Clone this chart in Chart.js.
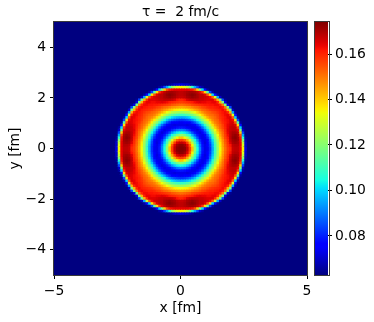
<!DOCTYPE html>
<html><head><meta charset="utf-8">
<style>html,body{margin:0;padding:0;background:#fff}
#w{position:relative;width:374px;height:322px;overflow:hidden}
canvas{position:absolute;top:0}
</style>
<script src="https://cdn.jsdelivr.net/npm/chart.js@4/dist/chart.umd.min.js"></script>
</head><body><div id="w"><canvas id="main" width="374" height="322" style="left:0"></canvas><canvas id="bar" width="74" height="322" style="left:300px"></canvas></div>
<script>
const titleText = 'τ =  2 fm/c';
const xLabel = 'x [fm]';
const yLabel = 'y [fm]';
const xTicks = [-5, 0, 5];
const yTicks = [-4, -2, 0, 2, 4];
const barTicks = [0.08, 0.10, 0.12, 0.14, 0.16];
const valueMin = 0.0628;
const valueMax = 0.1741;
const cellSize = 0.1;
const cellsPerSide = 100;
// Values, in thousandths. Cell rows outward from the centre;
// the picture repeats this wedge by reflection. Cells not listed are at the floor.
const wedge = [
[174],
[173,171],
[168,165,157],
[157,153,144,131],
[141,135,127,117,107],
[121,117,111,105,96,87],
[105,103,99,93,85,79,74],
[91,89,85,81,77,74,72,75],
[79,78,76,74,73,73,75,80,88],
[73,73,72,73,74,77,82,89,98,108],
[74,75,76,77,81,86,94,101,110,120,126],
[82,83,85,88,92,98,105,113,121,128,136,142],
[95,96,98,101,106,110,117,123,130,138,144,148,150],
[109,110,112,115,118,123,128,134,140,145,149,151,152,154],
[122,123,124,126,130,134,139,143,147,150,152,153,155,156,158],
[134,135,136,139,141,144,146,149,152,153,155,157,158,159,160,161],
[144,145,146,147,149,151,152,154,156,157,159,160,160,161,162,163,161],
[151,152,153,154,156,157,158,159,160,161,161,162,162,163,163,160,150,118],
[157,158,159,160,161,163,164,165,164,164,163,163,164,164,160,143,118,72],
[160,162,165,167,168,168,168,167,167,166,165,165,165,159,143,118,84,65],
[167,168,170,171,172,171,170,168,168,167,166,163,153,131,95,70],
[168,169,171,172,173,172,170,168,168,165,155,137,100,78,66],
[168,169,170,171,171,170,168,164,158,138,112,84,67],
[164,164,164,163,162,155,140,118,100,78,66],
[135,132,128,120,108,95,84,70,66],
[72,70,70,67,65]
];

function jet(t){
  const c=(a)=>Math.max(0,Math.min(1,a));
  const r = t<.35?0:t<.66?(t-.35)/.31:t<.89?1:1-(t-.89)/.11*.5;
  const g = t<.125?0:t<.375?(t-.125)/.25:t<.64?1:t<.91?1-(t-.64)/.27:0;
  const b = t<.11?.5+t/.11*.5:t<.34?1:t<.65?1-(t-.34)/.31:0;
  return `rgb(${Math.round(c(r)*255)},${Math.round(c(g)*255)},${Math.round(c(b)*255)})`;
}
function cellValue(c,d){
  const half=cellsPerSide/2;
  const i=c>=half?c-half:half-1-c, j=d>=half?d-half:half-1-d;
  const k=Math.max(i,j), m=Math.min(i,j);
  const row=wedge[k];
  const v=row&&row[m]!==undefined?row[m]/1000:valueMin;
  return v;
}
const points=[], colors=[];
for(let d=0;d<cellsPerSide;d++)for(let c=cellsPerSide-1;c>=0;c--){
  const v=cellValue(c,d);
  points.push({x:-5+cellSize*(c+.5),y:-5+cellSize*(d+.5),v});
  colors.push(jet((v-valueMin)/(valueMax-valueMin)));
}
const frame={id:'frame',afterDraw(ch){const a=ch.chartArea,x=ch.ctx;x.save();x.strokeStyle='#3a3a3a';x.lineWidth=1;
  x.strokeRect(Math.round(a.left)-.5,Math.round(a.top)-.5,Math.round(a.right-a.left)+1,Math.round(a.bottom-a.top)+1);x.restore();}};
const font={family:'"DejaVu Sans"',size:13.9};
const minus=s=>String(s).replace('-','\u2212');
Chart.defaults.font.family='"DejaVu Sans"';
Chart.defaults.color='#000';

new Chart(document.getElementById('main'),{
  type:'scatter',
  data:{datasets:[{data:points,pointStyle:'rect',pointRadius:2.5,pointHoverRadius:2.5,pointBorderWidth:0,pointBackgroundColor:colors,backgroundColor:colors}]},
  options:{responsive:false,animation:false,events:[],
    layout:{padding:{left:0,right:67,top:0,bottom:0}},
    plugins:{legend:{display:false},tooltip:{enabled:false},
      title:{display:true,text:titleText,fullSize:false,font:{...font,weight:'normal'},color:'#000',padding:{top:4,bottom:1.32}}},
    scales:{
      x:{type:'linear',min:-5,max:5,afterBuildTicks:s=>{s.ticks=xTicks.map(v=>({value:v}))},afterFit:s=>{s.height=47},
        grid:{drawOnChartArea:false,tickLength:4,tickColor:'#000'},border:{display:false},
        ticks:{font,color:'#000',padding:4,maxRotation:0,callback:minus},
        title:{display:true,text:xLabel,font,color:'#000',padding:{top:0,bottom:5}}},
      y:{type:'linear',min:-5,max:5,afterBuildTicks:s=>{s.ticks=yTicks.map(v=>({value:v}))},afterFit:s=>{s.width=54},
        grid:{drawOnChartArea:false,tickLength:4,tickColor:'#000'},border:{display:false},
        ticks:{font,color:'#000',padding:4,callback:minus},
        title:{display:true,text:yLabel,font,color:'#000',padding:{top:7,bottom:0}}}
    }},
  plugins:[frame]
});
new Chart(document.getElementById('bar'),{
  type:'bar',
  data:{labels:['colour'],datasets:[{data:[[valueMin,valueMax]],barPercentage:1,categoryPercentage:1,
    backgroundColor:(ctx)=>{const a=ctx.chart.chartArea;if(!a)return '#000';
      const g=ctx.chart.ctx.createLinearGradient(0,a.bottom,0,a.top);
      for(let i=0;i<=64;i++)g.addColorStop(i/64,jet(i/64));return g;}}]},
  options:{responsive:false,animation:false,events:[],
    layout:{padding:{left:14.5,right:0,top:22,bottom:47}},
    plugins:{legend:{display:false},tooltip:{enabled:false}},
    scales:{
      x:{display:false},
      y:{position:'right',min:valueMin,max:valueMax,afterBuildTicks:s=>{s.ticks=barTicks.map(v=>({value:v}))},afterFit:s=>{s.width=46},
        grid:{drawOnChartArea:false,tickLength:4,tickColor:'#000'},border:{display:false},
        ticks:{font,color:'#000',padding:3,callback:v=>Number(v).toFixed(2)}}
    }},
  plugins:[frame]
});
</script></body></html>
